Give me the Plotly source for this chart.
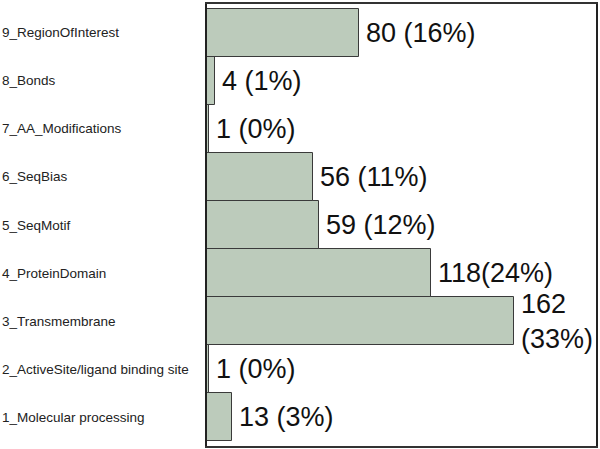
import plotly.graph_objects as go

categories = ["1_Molecular processing", "2_ActiveSite/ligand binding site", "3_Transmembrane",
              "4_ProteinDomain", "5_SeqMotif", "6_SeqBias", "7_AA_Modifications", "8_Bonds",
              "9_RegionOfInterest"]
counts = [13, 1, 162, 118, 59, 56, 1, 4, 80]
value_labels = ["13 (3%)", "1 (0%)", "162<br>(33%)", "118(24%)", "59 (12%)", "56 (11%)",
                "1 (0%)", "4 (1%)", "80 (16%)"]

fig = go.Figure(go.Bar(
    x=counts, y=categories, orientation="h",
    marker=dict(color="#bccbbb", line=dict(color="#3a3a3a", width=1)),
    hoverinfo="skip",
))

annotations = []
for c, v, lab in zip(categories, counts, value_labels):
    annotations.append(dict(x=v, y=c, xref="x", yref="y", text=lab, showarrow=False,
                            xanchor="left", xshift=5, align="left",
                            font=dict(family="Liberation Sans, Arial", size=27, color="#111")))
    annotations.append(dict(x=0, y=c, xref="paper", yref="y", text=c, showarrow=False,
                            xanchor="left", xshift=-207,
                            font=dict(family="Liberation Sans, Arial", size=13.5, color="#222")))

fig.update_layout(
    width=600, height=449,
    margin=dict(l=207, r=3, t=2, b=3),
    paper_bgcolor="white", plot_bgcolor="white",
    bargap=0, showlegend=False,
    annotations=annotations,
    xaxis=dict(range=[0, 205], showgrid=False, zeroline=False, showticklabels=False,
               showline=True, linecolor="#333", linewidth=1.5, mirror=True, ticks=""),
    yaxis=dict(range=[-0.6, 8.6], categoryorder="array", categoryarray=categories,
               showgrid=False, zeroline=False, showticklabels=False,
               showline=True, linecolor="#222", linewidth=2, mirror=True, ticks=""),
)

fig.write_html("out.html", config={"displayModeBar": False},
               post_script="document.body.style.margin='0';")
